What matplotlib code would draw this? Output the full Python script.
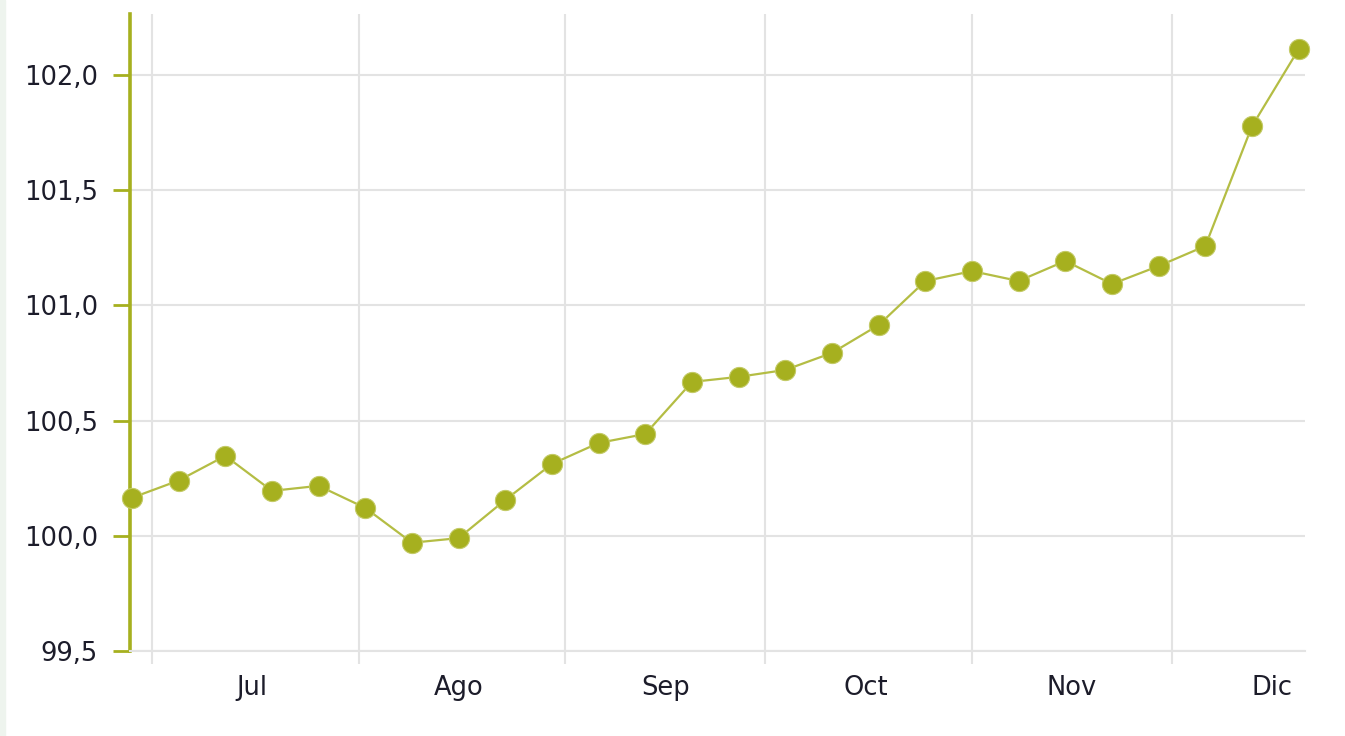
import datetime as dt

import matplotlib
matplotlib.use("Agg")
import matplotlib.dates as mdates
import matplotlib.pyplot as plt
from matplotlib.patches import Rectangle
from matplotlib.ticker import FixedLocator, FuncFormatter

# weekly index values, end of June to December
start = dt.date(2019, 6, 28)
dates = [start + dt.timedelta(weeks=i) for i in range(26)]
values = [100.165, 100.24, 100.347, 100.195, 100.217, 100.121, 99.97, 99.99,
          100.156, 100.312, 100.403, 100.442, 100.668, 100.69, 100.72, 100.794,
          100.915, 101.106, 101.149, 101.106, 101.193, 101.093, 101.171,
          101.258, 101.778, 102.112]
month_labels = ["Jul", "Ago", "Sep", "Oct", "Nov", "Dic"]
month_starts = [dt.date(2019, m, 1) for m in range(7, 13)]
month_mids = [dt.date(2019, m, 16) for m in range(7, 13)]
y_ticks = [99.5, 100.0, 100.5, 101.0, 101.5, 102.0]

OLIVE = "#a6b01f"
LINE = "#b4bd44"
GRID = "#e3e3e3"
TEXT = "#1c1c2a"

fig = plt.figure(figsize=(13.45, 7.36), dpi=100)
fig.patches.append(Rectangle((0, 0), 5 / 1345, 1, transform=fig.transFigure,
                             color="#eef4ee", zorder=0))
ax = fig.add_axes([130 / 1345, 1 - 651 / 736, 1175 / 1345, 637 / 736])

ax.plot(dates, values, color=LINE, lw=1.6, zorder=3, clip_on=False)
ax.plot(dates, values, ls="none", marker="o", ms=14.5, color=OLIVE,
        mec="#c3ca66", mew=0.8, zorder=4, clip_on=False)

ax.set_ylim(99.5, 102.265)
ax.set_xlim(mdates.date2num(dt.date(2019, 6, 27)) + 0.7,
            mdates.date2num(dt.date(2019, 12, 20)) + 0.95)

ax.set_yticks(y_ticks)
ax.yaxis.set_major_formatter(FuncFormatter(lambda v, _: f"{v:.1f}".replace(".", ",")))
ax.tick_params(axis="y", length=12, width=2, color=OLIVE, pad=11,
               labelsize=18.5, labelcolor=TEXT)

ax.xaxis.set_major_locator(FixedLocator(mdates.date2num(month_mids)))
ax.set_xticklabels(month_labels)
ax.xaxis.set_minor_locator(FixedLocator(mdates.date2num(month_starts)))
ax.tick_params(axis="x", which="major", length=0, pad=17, labelsize=18.5,
               labelcolor=TEXT)
ax.tick_params(axis="x", which="minor", length=9, width=1.5, color=GRID)

ax.grid(axis="y", color=GRID, lw=1.5)
ax.grid(axis="x", which="minor", color=GRID, lw=1.5)
ax.set_axisbelow(True)

for s in ("top", "right"):
    ax.spines[s].set_visible(False)
ax.spines["left"].set_color(OLIVE)
ax.spines["left"].set_linewidth(2.6)
ax.spines["bottom"].set_color(GRID)
ax.spines["bottom"].set_linewidth(1.5)

fig.savefig("out.png", dpi=100)
